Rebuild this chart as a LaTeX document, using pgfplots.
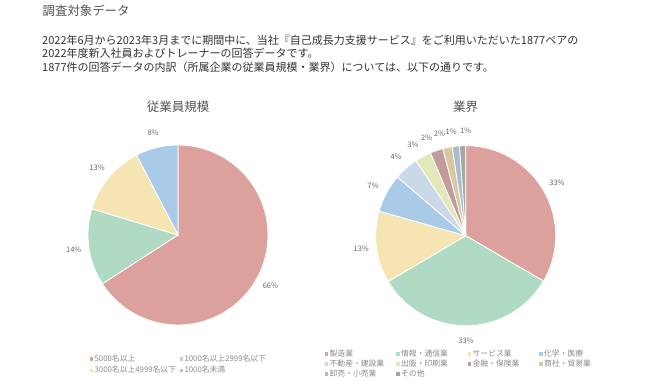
\documentclass[border=0pt]{standalone}
\usepackage{fontspec}
\setmainfont{Noto Sans CJK JP}
\usepackage{pgfplots}
\pgfplotsset{compat=1.18}

\definecolor{cPink}{HTML}{DDA19D}
\definecolor{cGreen}{HTML}{B0DAC4}
\definecolor{cYellow}{HTML}{F5E5B3}
\definecolor{cBlue}{HTML}{AACBE8}
\definecolor{cLBlue}{HTML}{CAD9E7}
\definecolor{cLYel}{HTML}{E3E7BA}
\definecolor{cBrown}{HTML}{C19C9B}
\definecolor{cTan}{HTML}{D6C8A1}
\definecolor{cGBlue}{HTML}{A7BDD0}
\definecolor{cGray}{HTML}{A5A9A1}
\definecolor{headgray}{HTML}{555555}
\definecolor{bodygray}{HTML}{333333}
\definecolor{labelgray}{HTML}{666666}
\definecolor{legendgray}{HTML}{8A8A8A}

\newcommand\labelfont{\fontsize{7.5}{9}\selectfont}
\newcommand\legendfont{\fontsize{7.8}{9}\selectfont}

\newcommand\piestart{\gdef\piecum{0}}
% #1 value (percent), #2 colour, #3 label, #4 label angle offset, #5 legend text
\newcommand\pieslice[5]{%
  \pgfmathsetmacro\sliceA{90-3.6*\piecum}%
  \pgfmathsetmacro\sliceB{90-3.6*(\piecum+#1)}%
  \pgfmathsetmacro\sliceM{(\sliceA+\sliceB)/2+#4}%
  \pgfmathsetmacro\sliceLx{1.17*cos(\sliceM)}%
  \pgfmathsetmacro\sliceLy{1.17*sin(\sliceM)}%
  \edef\pietemp{%
    \noexpand\addplot[fill=#2, draw=white, line width=0.8pt, domain=\sliceB:\sliceA, samples=60, variable=\noexpand\t]
      ({cos(\noexpand\t)},{sin(\noexpand\t)}) -- (axis cs:0,0) -- cycle;
    \noexpand\addlegendentry{\unexpanded{#5}}
    \noexpand\node[font=\noexpand\labelfont, text=labelgray, inner sep=0pt] at (axis cs:\sliceLx,\sliceLy) {\unexpanded{#3}};
  }%
  \pietemp
  \pgfmathsetmacro\piecumnew{\piecum+#1}%
  \global\let\piecum\piecumnew
}

\pgfplotsset{
  pieaxis/.style={
    x=90pt, y=90pt, xmin=-1.5, xmax=1.5, ymin=-1.5, ymax=1.5,
    hide axis, clip=false, anchor=center,
    legend image code/.code={\fill[##1, draw=none] (0pt,-1.75pt) rectangle (3.5pt,1.75pt);},
  },
  pielegend/.style={
    legend style={draw=none, fill=none, inner sep=0pt, anchor=north west,
      font=\legendfont, text=legendgray, cells={anchor=west},
      nodes={inner sep=0.5pt, text height=6.5pt, text depth=1.5pt}},
  },
}

\begin{document}
\begin{tikzpicture}
\path[use as bounding box, fill=white] (0pt,0pt) rectangle (650pt,380pt);

\node[anchor=west, inner sep=0pt, text=headgray, font=\fontsize{12.4}{14}\selectfont] at (42.5pt,369pt) {調査対象データ};
\node[anchor=west, inner sep=0pt, text=bodygray, font=\fontsize{11}{13}\selectfont] at (42pt,340pt) {2022年6月から2023年3月までに期間中に、当社『自己成長力支援サービス』をご利用いただいた1877ペアの};
\node[anchor=west, inner sep=0pt, text=bodygray, font=\fontsize{11}{13}\selectfont] at (42pt,326.5pt) {2022年度新入社員およびトレーナーの回答データです。};
\node[anchor=west, inner sep=0pt, text=bodygray, font=\fontsize{11}{13}\selectfont] at (42pt,313pt) {1877件の回答データの内訳（所属企業の従業員規模・業界）については、以下の通りです。};

\node[text=headgray, inner sep=0pt, font=\fontsize{12.5}{14}\selectfont] at (178pt,273.5pt) {従業員規模};
\node[text=headgray, inner sep=0pt, font=\fontsize{12.5}{14}\selectfont] at (465.7pt,273.5pt) {業界};

% Left pie: employee size
\begin{axis}[pieaxis, pielegend, at={(178pt,145pt)},
  legend columns=2,
  legend style={at={(0.172,0.059)}, row sep=2.7pt,
    /tikz/every odd column/.append style={column sep=1pt},
    /tikz/every even column/.append style={column sep=3pt}},
]
\piestart
\pieslice{65.9}{cPink}{66\%}{0}{5000名以上}
\pieslice{13.8}{cGreen}{14\%}{0}{1000名以上2999名以下}
\pieslice{12.7}{cYellow}{13\%}{0}{3000名以上4999名以下}
\pieslice{7.6}{cBlue}{8\%}{0}{1000名未満}
\end{axis}

% Right pie: industry
\begin{axis}[pieaxis, pielegend, at={(465.7pt,144.3pt)},
  legend columns=4,
  legend style={at={(-0.023,0.080)}, row sep=1pt,
    /tikz/every odd column/.append style={column sep=1pt},
    /tikz/every even column/.append style={column sep=3pt}},
]
\piestart
\pieslice{33.4}{cPink}{33\%}{0}{\makebox[63pt][l]{製造業}}
\pieslice{33.1}{cGreen}{33\%}{0}{\makebox[63pt][l]{情報・通信業}}
\pieslice{12.9}{cYellow}{13\%}{0}{\makebox[63pt][l]{サービス業}}
\pieslice{6.9}{cBlue}{7\%}{0}{\makebox[63pt][l]{化学・医療}}
\pieslice{4.4}{cLBlue}{4\%}{0}{\makebox[63pt][l]{不動産・建設業}}
\pieslice{2.9}{cLYel}{3\%}{1.8}{\makebox[63pt][l]{出版・印刷業}}
\pieslice{2.3}{cBrown}{2\%}{2.8}{\makebox[63pt][l]{金融・保険業}}
\pieslice{1.7}{cTan}{2\%}{2.7}{\makebox[63pt][l]{商社・貿易業}}
\pieslice{1.3}{cGBlue}{1\%}{1.6}{\makebox[63pt][l]{卸売・小売業}}
\pieslice{1.1}{cGray}{1\%}{-2}{\makebox[63pt][l]{その他}}
\end{axis}
\end{tikzpicture}
\end{document}
